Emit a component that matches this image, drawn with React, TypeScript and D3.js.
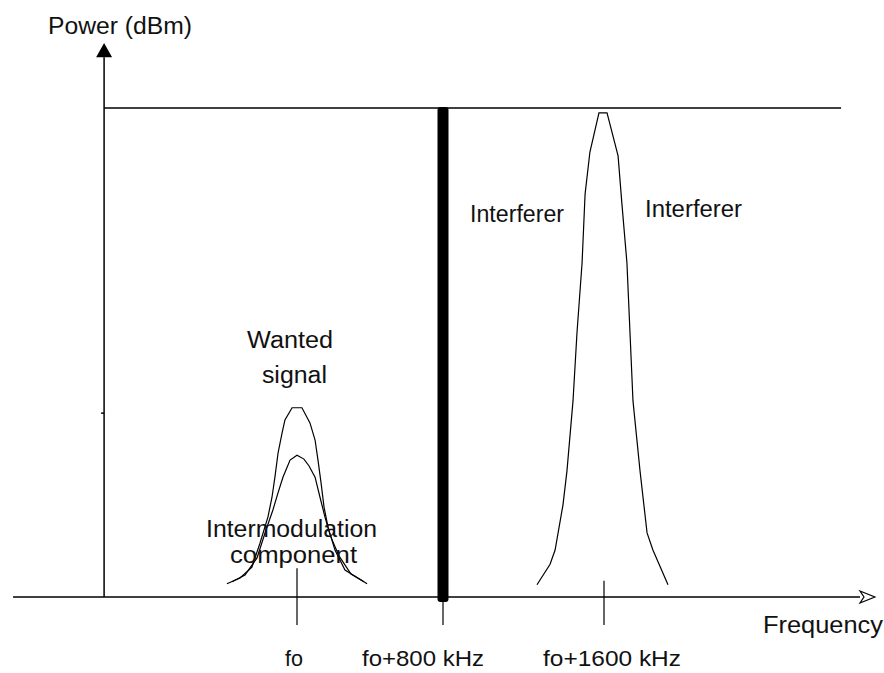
import React from 'react';
import * as d3 from 'd3';

// frequency offsets (kHz) and relative power (0 = axis, 100 = top limit line)
const tickFreqs = [0, 800, 1600];
const tickLabels = ['fo', 'fo+800 kHz', 'fo+1600 kHz'];

const wantedOffsets = [-384, -312, -247, -203, -159, -137, -121, -104, -82, -66, -27, 27, 71, 99, 115, 132, 148, 170, 208, 263, 384];
const wantedPower = [2.7, 3.9, 6.1, 11.0, 16.4, 20.4, 24.5, 29.4, 33.5, 36.2, 38.7, 38.7, 35.6, 32.1, 28.0, 23.3, 18.4, 14.3, 9.6, 5.5, 2.7];

const imOffsets = [-356, -285, -219, -170, -132, -104, -77, -38, 0, 38, 66, 99, 126, 153, 181, 230, 296, 367];
const imPower = [3.1, 4.5, 8.0, 13.7, 17.8, 21.3, 24.5, 28.0, 29.0, 28.2, 26.8, 24.5, 20.4, 16.4, 12.7, 8.4, 4.7, 3.1];

const intOffsets = [-333, -268, -243, -204, -184, -154, -134, -109, -94, -70, -25, 15, 70, 89, 114, 129, 144, 179, 214, 243, 318];
const intPower = [2.5, 6.7, 9.6, 18.8, 25.8, 40.1, 54.2, 68.3, 82.4, 91.0, 99.0, 99.0, 90.2, 80.4, 68.3, 54.2, 40.1, 25.8, 13.1, 9.6, 2.5];

const blockerFreq = 800;
const limitPower = 100;
const refTickPower = 37.6;

const W = 884;
const H = 673;
const FONT = "'Liberation Sans', Arial, sans-serif";

const x = d3.scaleLinear().domain([0, 800, 1600]).range([297, 443, 604]);
const y = d3.scaleLinear().domain([0, 100]).range([597, 108]);

const xMin = -1556, xMax = 2872, xTip = 2946;
const yAxisF = -1057, yTop = 113.3, yArrowBase = 110.4, limitEnd = 2778;

const line = d3.line<[number, number]>().x(d => x(d[0])).y(d => y(d[1]));
const curve = (center: number, offs: number[], pw: number[]) =>
  line(offs.map((o, i) => [center + o, pw[i]] as [number, number])) || '';

const notes = [
  { t: 'Power (dBm)', f: -1364, p: 115.1, w: 144, a: 'start' },
  { t: 'Wanted', f: -38, p: 50.9, w: 86, a: 'middle' },
  { t: 'signal', f: -14, p: 43.8, w: 65, a: 'middle' },
  { t: 'Intermodulation', f: -30, p: 12.3, w: 171, a: 'middle' },
  { t: 'component', f: -19, p: 7.0, w: 127, a: 'middle' },
  { t: 'Interferer', f: 1168, p: 76.7, w: 94, a: 'middle' },
  { t: 'Interferer', f: 2045, p: 77.7, w: 97, a: 'middle' },
  { t: 'Frequency', f: 2390, p: -7.4, w: 120, a: 'start' },
];
const labelShift = [-3, -20, 8];
const labelW = [18, 122, 138];

export default function App() {
  const ax = x(yAxisF);
  const ay = y(0);
  const tipX = x(xTip);
  const arrX = x(xMax);
  return (
    <svg width={W} height={H} style={{ position: 'absolute', left: 0, top: 0, background: '#fff' }}>
      {/* limit line */}
      <line x1={ax} x2={x(limitEnd)} y1={y(limitPower)} y2={y(limitPower)} stroke="#000" strokeWidth={1.3} />
      {/* y axis */}
      <line x1={ax} x2={ax} y1={ay} y2={y(yArrowBase)} stroke="#000" strokeWidth={1.5} />
      <polygon points={`${ax},${y(yTop)} ${ax - 8},${y(yArrowBase)} ${ax + 8},${y(yArrowBase)}`} fill="#000" />
      <line x1={ax - 3} x2={ax} y1={y(refTickPower)} y2={y(refTickPower)} stroke="#000" strokeWidth={1.5} />
      {/* x axis */}
      <line x1={x(xMin)} x2={arrX} y1={ay} y2={ay} stroke="#000" strokeWidth={1.5} />
      <polygon points={`${arrX},${ay - 6} ${tipX},${ay} ${arrX},${ay + 6} ${arrX + 4},${ay}`} fill="#fff" stroke="#000" strokeWidth={1.2} />
      {/* ticks */}
      <line x1={x(0)} x2={x(0)} y1={y(5.9)} y2={625} stroke="#000" strokeWidth={1.2} />
      <line x1={x(800)} x2={x(800)} y1={ay} y2={625} stroke="#000" strokeWidth={1.2} />
      <line x1={x(1600)} x2={x(1600)} y1={y(3.3)} y2={625} stroke="#000" strokeWidth={1.2} />
      {/* blocker */}
      <rect x={x(blockerFreq) - 5.5} width={11} y={y(limitPower) - 1} height={y(-1) - y(limitPower) + 1} rx={3} fill="#000" />
      {/* spectra */}
      <path d={curve(0, wantedOffsets, wantedPower)} fill="none" stroke="#000" strokeWidth={1.2} />
      <path d={curve(0, imOffsets, imPower)} fill="none" stroke="#000" strokeWidth={1.2} />
      <path d={curve(1600, intOffsets, intPower)} fill="none" stroke="#000" strokeWidth={1.2} />
      {/* texts */}
      {notes.map((n, i) => (
        <text key={i} x={x(n.f)} y={y(n.p)} textAnchor={n.a as any} fontFamily={FONT} fontSize={23}
          textLength={n.w} lengthAdjust="spacingAndGlyphs" fill="#111">{n.t}</text>
      ))}
      {tickFreqs.map((f, i) => (
        <text key={'t' + i} x={x(f) + labelShift[i]} y={666} textAnchor="middle" fontFamily={FONT} fontSize={22}
          textLength={labelW[i]} lengthAdjust="spacingAndGlyphs" fill="#111">{tickLabels[i]}</text>
      ))}
    </svg>
  );
}
